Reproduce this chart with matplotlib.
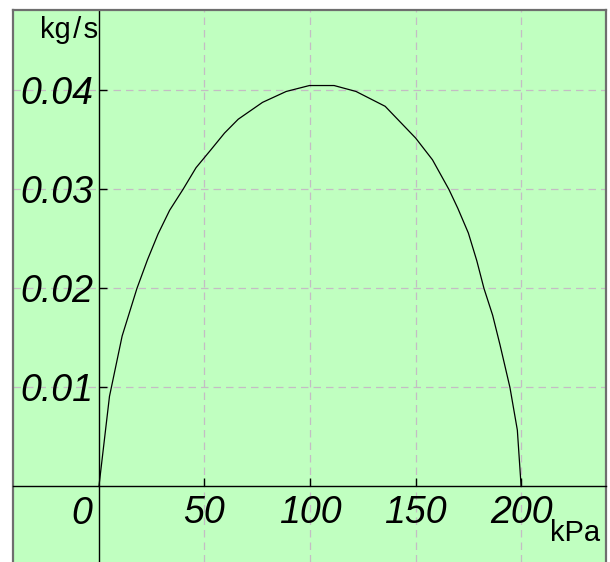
"""Mass flow vs. back pressure curve."""

import matplotlib
matplotlib.use("Agg")
from matplotlib import pyplot as plt
from matplotlib.lines import Line2D

# data
pressure_kpa = [0, 5, 11, 18, 23, 28, 33.5, 39.8, 46, 53, 59.5, 66, 77.5,
                88.7, 99.7, 111.4, 121.8, 135.6, 150, 158, 165.8, 170, 175,
                179, 182.4, 186.5, 190, 194.7, 198.2, 200]
flow_kgs = [0, 0.0091, 0.0152, 0.0200, 0.0229, 0.0255, 0.0279, 0.0300,
            0.0322, 0.0340, 0.0357, 0.0371, 0.0388, 0.0399, 0.0405, 0.0405,
            0.0399, 0.0384, 0.0352, 0.0330, 0.0300, 0.0281, 0.0256, 0.0228,
            0.0200, 0.0173, 0.0143, 0.0100, 0.0057, 0]
x_ticks = [50, 100, 150, 200]
y_ticks = [0.01, 0.02, 0.03, 0.04]

BG = "#c0ffc0"
GRID = "#c4bcc4"
FRAME = "#6e6e6e"
TICK_FONT = dict(family=["Liberation Sans", "DejaVu Sans"], style="italic", size=27)
UNIT_FONT = dict(family=["Liberation Sans", "DejaVu Sans"], size=21)

fig = plt.figure(figsize=(6.10, 5.62), dpi=100)
ax = fig.add_axes([13 / 610, 0.0, 593 / 610, 1 - 10 / 562])
ax.set_facecolor(BG)

ax.plot(pressure_kpa, flow_kgs, color="black", linewidth=0.9, zorder=3)

ax.set_xlim(-40.7, 240.2)
ax.set_ylim(-0.00763, 0.04813)

# axes through the origin
ax.spines["left"].set_position(("data", 0))
ax.spines["bottom"].set_position(("data", 0))
for s in ("left", "bottom"):
    ax.spines[s].set_color("black")
    ax.spines[s].set_linewidth(1.0)
for s in ("top", "right"):
    ax.spines[s].set_color(FRAME)
    ax.spines[s].set_linewidth(1.6)
ax.add_line(Line2D([0, 0], [0, 1], transform=ax.transAxes, color=FRAME,
                   linewidth=1.6, clip_on=False))

ax.set_xticks(x_ticks)
ax.set_yticks(y_ticks)
ax.set_xticklabels([str(v) for v in x_ticks], **TICK_FONT)
ax.set_yticklabels([f"{v:.2f}" for v in y_ticks], **TICK_FONT)
ax.tick_params(direction="in", length=6, width=1.0, color="black")
ax.tick_params(axis="x", pad=6)
ax.tick_params(axis="y", pad=4)

ax.grid(True, color=GRID, linestyle=(0, (6, 4)), linewidth=0.9)
ax.set_axisbelow(True)

# origin label and units
ax.text(-3, -0.001, "0", ha="right", va="top", **TICK_FONT)
ax.text(-0.3, 0.0453, "kg\u200a/\u200as", ha="right", va="baseline", **UNIT_FONT)
ax.text(213.5, -0.0055, "kPa", ha="left", va="baseline", **UNIT_FONT)

fig.savefig("out.png", dpi=100)
